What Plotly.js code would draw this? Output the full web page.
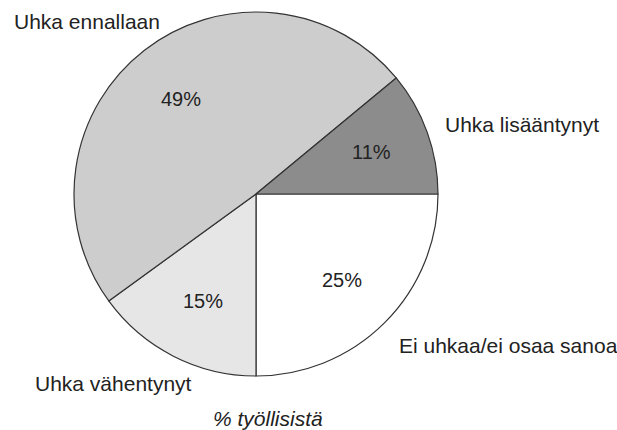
<!DOCTYPE html>
<html>
<head>
<meta charset="utf-8">
<script src="https://cdn.plot.ly/plotly-3.0.1.min.js"></script>
<style>html,body{margin:0;padding:0;background:#fff;}#chart{width:617px;height:430px;}</style>
</head>
<body>
<div id="chart"></div>
<script>
// Data
var categories = ["Ei uhkaa/ei osaa sanoa", "Uhka vähentynyt", "Uhka ennallaan", "Uhka lisääntynyt"];
var values = [25, 15, 49, 11];
var sliceColors = ["#ffffff", "#e6e6e6", "#cdcdcd", "#8c8c8c"];
var unitLabel = "% työllisistä";

var W = 617, H = 430;
var FONT = "'Liberation Sans', Arial, sans-serif";
function px(x) { return x / W; }
function py(y) { return 1 - y / H; }

// label placements (pixels) : [x, y]
var namePos = [[397, 345], [33, 383], [12, 22], [443, 124]];
var pctPos = [[342, 280], [203, 301], [181, 99], [371, 152]];

var annotations = [];
categories.forEach(function (c, i) {
  annotations.push({
    text: c, xref: 'paper', yref: 'paper', x: px(namePos[i][0]), y: py(namePos[i][1]),
    xanchor: 'left', align: 'left', yanchor: 'middle', showarrow: false,
    font: {family: FONT, size: 21, color: '#222'}
  });
  annotations.push({
    text: values[i] + '%', xref: 'paper', yref: 'paper', x: px(pctPos[i][0]), y: py(pctPos[i][1]),
    xanchor: 'center', yanchor: 'middle', showarrow: false,
    font: {family: FONT, size: 20, color: '#222'}
  });
});
annotations.push({
  text: '<i>' + unitLabel + '</i>', xref: 'paper', yref: 'paper', x: px(211), y: py(418),
  xanchor: 'left', align: 'left', yanchor: 'middle', showarrow: false,
  font: {family: FONT, size: 21, color: '#222'}
});

var cx = 256, cy = 194, r = 182;
var trace = {
  type: 'pie',
  labels: categories,
  values: values,
  sort: false,
  direction: 'clockwise',
  rotation: 90,
  textinfo: 'none',
  hoverinfo: 'label+percent',
  marker: {colors: sliceColors, line: {color: '#333333', width: 1.2}},
  domain: {x: [px(cx - r), px(cx + r)], y: [py(cy + r), py(cy - r)]},
  showlegend: false
};

var layout = {
  width: W, height: H,
  margin: {l: 0, r: 0, t: 0, b: 0},
  paper_bgcolor: '#ffffff',
  showlegend: false,
  annotations: annotations
};

Plotly.newPlot('chart', [trace], layout, {displayModeBar: false, staticPlot: true});
</script>
</body>
</html>
